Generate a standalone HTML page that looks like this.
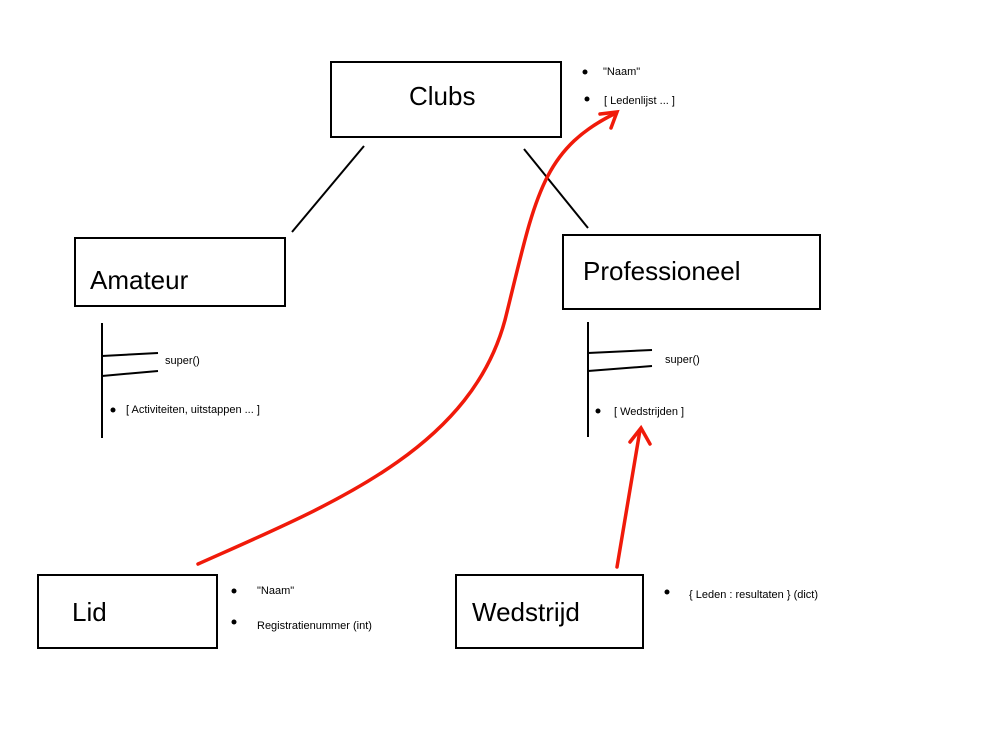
<!DOCTYPE html>
<html><head><style>body{margin:0;background:#fff}svg{display:block}</style></head><body>
<svg width="1000" height="750" xmlns="http://www.w3.org/2000/svg" font-family="Liberation Sans, sans-serif">
<g fill="none" stroke="#000" stroke-width="2">
<rect x="331" y="62" width="230" height="75"/>
<rect x="75" y="238" width="210" height="68"/>
<rect x="563" y="235" width="257" height="74"/>
<rect x="38" y="575" width="179" height="73"/>
<rect x="456" y="575" width="187" height="73"/>
<line x1="364" y1="146" x2="292" y2="232"/>
<line x1="524" y1="149" x2="588" y2="228"/>
<line x1="102" y1="323" x2="102" y2="438"/>
<line x1="102" y1="356" x2="158" y2="353"/>
<line x1="102" y1="376" x2="158" y2="371"/>
<line x1="588" y1="322" x2="588" y2="437"/>
<line x1="588" y1="353" x2="652" y2="350"/>
<line x1="588" y1="371" x2="652" y2="366"/>
</g>
<g fill="#000">
<circle cx="585" cy="72" r="2.5"/><circle cx="587" cy="99" r="2.5"/>
<circle cx="113" cy="410" r="2.5"/><circle cx="598" cy="411" r="2.5"/>
<circle cx="234" cy="591" r="2.5"/><circle cx="234" cy="622" r="2.5"/>
<circle cx="667" cy="592" r="2.5"/>
</g>
<g font-size="26" fill="#000">
<text x="409" y="105">Clubs</text>
<text x="90" y="289">Amateur</text>
<text x="583" y="280">Professioneel</text>
<text x="72" y="621">Lid</text>
<text x="472" y="621">Wedstrijd</text>
</g>
<g font-size="11" fill="#000">
<text x="603" y="75">"Naam"</text>
<text x="604" y="104">[ Ledenlijst ... ]</text>
<text x="165" y="364">super()</text>
<text x="126" y="413">[ Activiteiten, uitstappen ... ]</text>
<text x="665" y="363">super()</text>
<text x="614" y="415">[ Wedstrijden ]</text>
<text x="257" y="594">"Naam"</text>
<text x="257" y="629">Registratienummer (int)</text>
<text x="689" y="598">{ Leden : resultaten } (dict)</text>
</g>
<g fill="none" stroke="#f01a0a" stroke-width="3.5" stroke-linecap="round">
<path d="M198,564 C330,505 470,450 505,320 C535,200 540,150 616,113"/>
<path d="M600,114 L617,112 L611,128"/>
<path d="M617,567 L640,430"/>
<path d="M630,442 L641,428 L650,444"/>
</g>
</svg>
</body></html>
